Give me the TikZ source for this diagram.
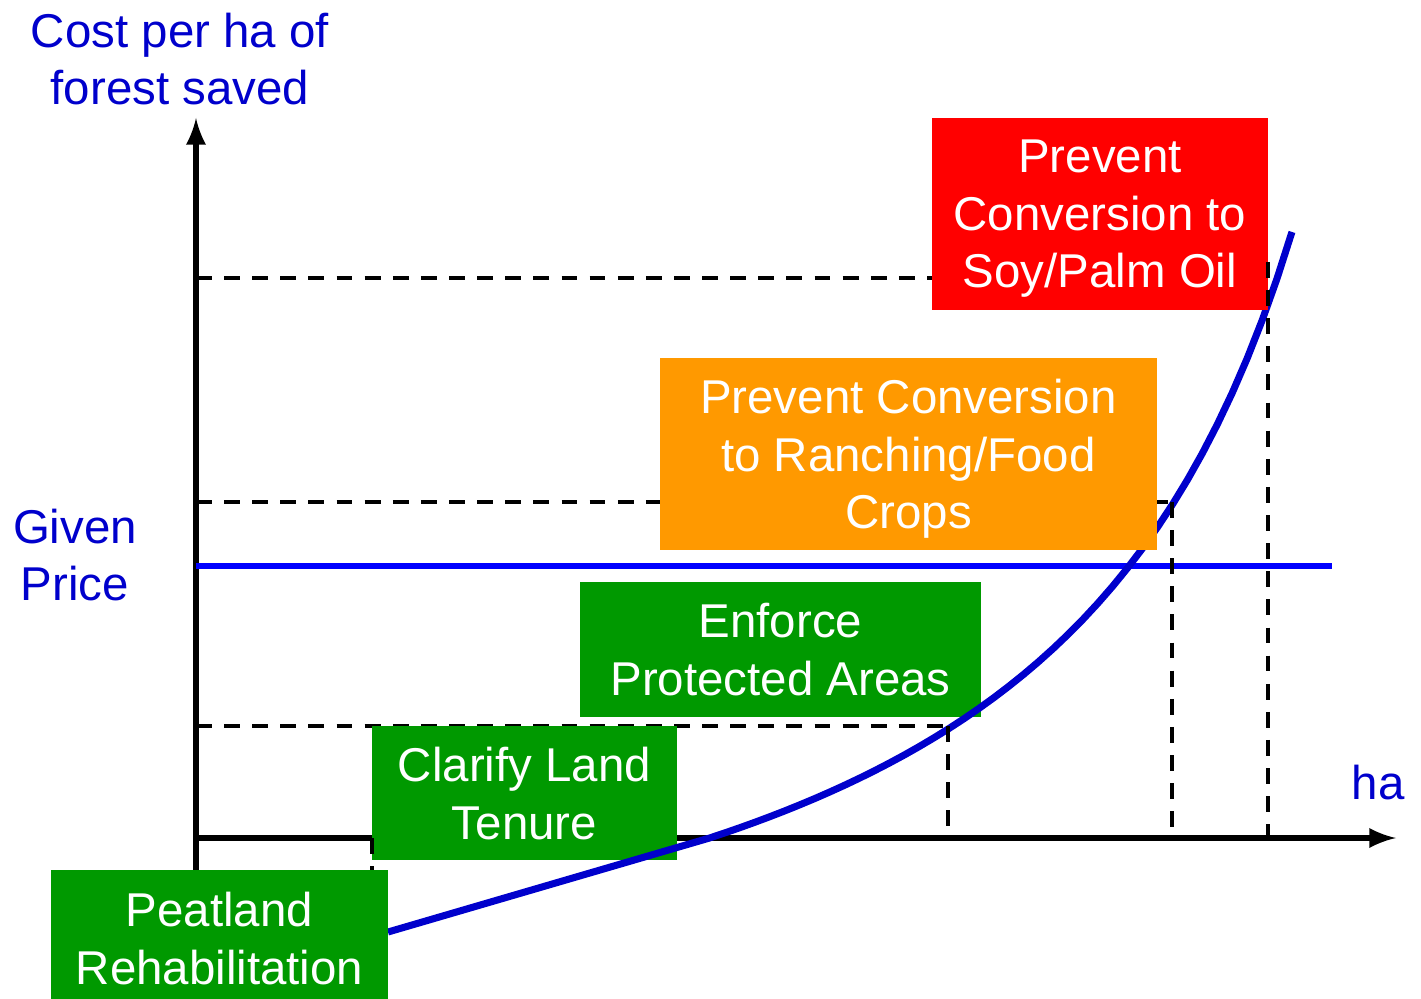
\documentclass[tikz,border=0pt]{standalone}
\usepackage{fontspec}
\setmainfont{Liberation Sans}
\usetikzlibrary{arrows}

\definecolor{txtblue}{RGB}{0,0,204}
\definecolor{priceblue}{RGB}{0,0,255}
\definecolor{boxred}{RGB}{255,0,0}
\definecolor{boxorange}{RGB}{255,153,0}
\definecolor{boxgreen}{RGB}{0,153,0}

\begin{document}
\begin{tikzpicture}[
        box/.style={fill=#1, text=white, align=center, inner sep=0pt, text depth=0pt,
                font=\fontsize{13.5}{16.4}\selectfont},
        lbl/.style={text=txtblue, align=center,
                font=\fontsize{13.5}{16.4}\selectfont},
        guide/.style={black, line width=1.1pt, dash pattern=on 4.5pt off 3.5pt}
]
        \useasboundingbox (0,0) rectangle (14.21,9.98);

        % origin and guide points on the curve
        \coordinate (origin) at (1.96,1.60);
        \coordinate (pa) at (9.48,2.72);
        \coordinate (pb) at (11.72,4.96);
        \coordinate (pc) at (12.68,7.20);
        \coordinate (pp) at (3.72,1.28);

        % dashed guides, horizontal part
        \draw[guide] (origin |- pa) -- (pa);
        \draw[guide] (origin |- pb) -- (pb);
        \draw[guide] (origin |- pc) -- (9.32,7.20);

        % axes
        \draw[-latex,line width=1.6pt] (1.96,1.28) -- (1.96,8.80);
        \draw[-latex,line width=1.6pt] (origin) -- (13.96,1.60);

        % given price
        \draw[priceblue,line width=1.8pt] (origin |- 0,4.32) -- (13.32,4.32);

        % green boxes under the curve
        \node[box=boxgreen, minimum width=3.05cm, minimum height=1.34cm] (tenure) at (5.245,2.05)
                {Clarify Land\\Tenure};
        \node[box=boxgreen, minimum width=4.01cm, minimum height=1.35cm] (enforce) at (7.805,3.485)
                {Enforce\\Protected Areas};

        % cost curve
        \draw[txtblue,line width=2pt] (3.88,0.66) --
                plot[domain=7.1:12.92,samples=40] (\x,{-1.2+23.84/(15.61-\x)});

        % boxes over the curve
        \node[box=boxorange, minimum width=4.97cm, minimum height=1.92cm] (ranching) at (9.085,5.44)
                {Prevent Conversion\\to Ranching/Food\\Crops};
        \node[box=boxred, minimum width=3.36cm, minimum height=1.92cm] (soy) at (11.00,7.84)
                {Prevent\\Conversion to\\Soy/Palm Oil};

        % dashed guides, vertical part
        \draw[guide] (pa) -- (pa |- origin);
        \draw[guide] (pb) -- (pb |- origin);
        \draw[guide] (12.68,7.36) -- (pc |- origin);
        \draw[guide] (pp |- origin) -- (pp);

        \node[box=boxgreen, minimum width=3.37cm, minimum height=1.36cm] (peat) at (2.195,0.60)
                {Peatland\\Rehabilitation};

        % axis labels
        \node[lbl] (cost) at (1.80,9.39) {Cost per ha of\\forest saved};
        \node[lbl] (price) at (0.75,4.43) {Given\\Price};
        \node[lbl] (ha) at (13.78,2.15) {ha};

\end{tikzpicture}
\end{document}
